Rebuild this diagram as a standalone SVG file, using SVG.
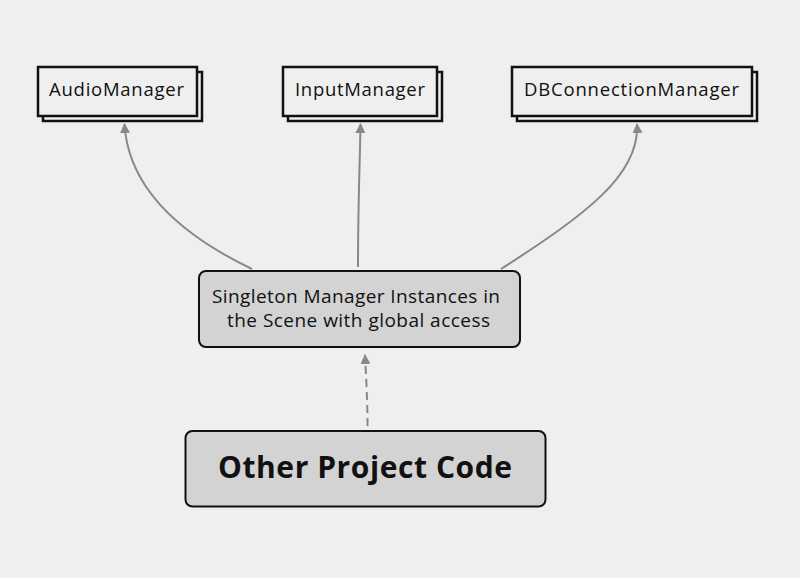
<svg xmlns="http://www.w3.org/2000/svg" width="800" height="578" viewBox="0 0 800 578">
<style>
.bg{fill:#efefef}
.card{fill:#efefef;stroke:#111;stroke-width:2.5}
.box{fill:#d3d3d3;stroke:#111;stroke-width:2}
.t{font-family:"Open Sans","Liberation Sans",sans-serif;fill:#111}
.small{font-size:18.5px}
.mid{font-size:19px}
.big{font-size:30px;font-weight:bold}
.c{fill:none;stroke:#888;stroke-width:2}
.d{stroke-dasharray:8,5}
</style>
<defs>
<marker id="ah" viewBox="0 0 10 10" refX="9" refY="5" markerWidth="5" markerHeight="5" orient="auto" markerUnits="strokeWidth">
<path d="M0,0 L10,5 L0,10 z" fill="#888"/>
</marker>
</defs>
<rect class="bg" x="0" y="0" width="800" height="578"/>
<g id="connectors">
<path class="c" d="M252,269 C175,232 128,185 124.5,124" marker-end="url(#ah)"/>
<path class="c" d="M358,267 C358,200 360,160 360.5,124" marker-end="url(#ah)"/>
<path class="c" d="M501,269 C585,215 640,175 637,124" marker-end="url(#ah)"/>
<path class="c d" d="M367.5,426 C367.5,400 366,375 365,355" marker-end="url(#ah)"/>
</g>
<g id="audio">
<rect class="card" x="43" y="72" width="159" height="49"/>
<rect class="card" x="38" y="67" width="159" height="49"/>
<text class="t small" x="49" y="96" textLength="135">AudioManager</text>
</g>
<g id="input">
<rect class="card" x="288" y="72" width="154" height="49"/>
<rect class="card" x="283" y="67" width="154" height="49"/>
<text class="t small" x="295" y="96" textLength="130">InputManager</text>
</g>
<g id="db">
<rect class="card" x="517" y="72" width="240" height="49"/>
<rect class="card" x="512" y="67" width="240" height="49"/>
<text class="t small" x="524" y="96" textLength="215">DBConnectionManager</text>
</g>
<g id="singleton">
<rect class="box" x="199" y="271" width="321" height="76" rx="7"/>
<text class="t mid" x="212" y="303" textLength="288">Singleton Manager Instances in</text>
<text class="t mid" x="227" y="327" textLength="263">the Scene with global access</text>
</g>
<g id="other">
<rect class="box" x="185.5" y="431" width="360" height="75.5" rx="7"/>
<text class="t big" x="218" y="478" textLength="294">Other Project Code</text>
</g>
</svg>
